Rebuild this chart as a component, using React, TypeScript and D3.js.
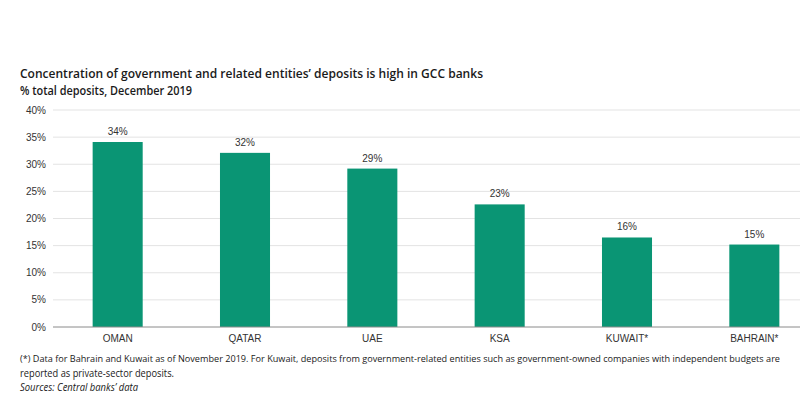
import React from "react";
import * as d3 from "d3";

const categories = ["OMAN", "QATAR", "UAE", "KSA", "KUWAIT*", "BAHRAIN*"];
const values = [34.1, 32.1, 29.2, 22.6, 16.5, 15.2];
const valueLabels = ["34%", "32%", "29%", "23%", "16%", "15%"];
const yTicks = [0, 5, 10, 15, 20, 25, 30, 35, 40];

const title = "Concentration of government and related entities’ deposits is high in GCC banks";
const subtitle = "% total deposits, December 2019";
const note1 =
  "(*) Data for Bahrain and Kuwait as of November 2019. For Kuwait, deposits from government-related entities such as government-owned companies with independent budgets are";
const note2 = "reported as private-sector deposits.";
const source = "Sources: Central banks’ data";

export default function App() {
  const W = 800;
  const H = 400;
  const x0 = 54;
  const x1 = 818;
  const yTop = 110;
  const yBot = 327;

  const x = d3.scaleBand<string>().domain(categories).range([x0, x1]).paddingInner(0.607).paddingOuter(0.3035);
  const y = d3.scaleLinear().domain([0, 40]).range([yBot, yTop]);
  const axisFont = "'Liberation Sans', Arial, sans-serif";
  const textFont = "'Open Sans', 'Noto Sans', sans-serif";

  return (
    <svg
      width={W}
      height={H}
      style={{ position: "absolute", left: 0, top: 0, background: "#fff" }}
    >
      <rect x={0} y={0} width={W} height={H} fill="#fff" />
      <text x={20} y={78} fontFamily={textFont} fontSize={12.8} fontWeight={600} fill="#1a1a1a" textLength={463} lengthAdjust="spacingAndGlyphs">
        {title}
      </text>
      <text x={20} y={95} fontFamily={textFont} fontSize={12.8} fontWeight={600} fill="#1a1a1a" textLength={172} lengthAdjust="spacingAndGlyphs">
        {subtitle}
      </text>

      {yTicks.map((t) => (
        <g key={t}>
          {t > 0 && (
            <line x1={53} x2={W} y1={y(t)} y2={y(t)} stroke="#e3e3e3" strokeWidth={1} />
          )}
          <text
            x={46}
            y={y(t)}
            dy="0.35em"
            textAnchor="end"
            fontFamily={axisFont}
            fontSize={10}
            fill="#333"
          >
            {t}%
          </text>
        </g>
      ))}

      {categories.map((c, i) => (
        <g key={c}>
          <rect
            x={x(c)}
            y={y(values[i])}
            width={x.bandwidth()}
            height={yBot - y(values[i])}
            fill="#0a9574"
          />
          <text
            x={(x(c) as number) + x.bandwidth() / 2}
            y={y(values[i]) - 7}
            textAnchor="middle"
            fontFamily={axisFont}
            fontSize={10}
            fill="#333"
          >
            {valueLabels[i]}
          </text>
          <text
            x={(x(c) as number) + x.bandwidth() / 2}
            y={yBot + 15}
            textAnchor="middle"
            fontFamily={axisFont}
            fontSize={10}
            fill="#333"
          >
            {c}
          </text>
        </g>
      ))}

      <line x1={53} x2={W} y1={yBot} y2={yBot} stroke="#8a8a8a" strokeWidth={1} />

      <text x={20} y={362} fontFamily={textFont} fontSize={9.2} fill="#1a1a1a" textLength={760} lengthAdjust="spacingAndGlyphs">
        {note1}
      </text>
      <text x={20} y={377} fontFamily={textFont} fontSize={10.4} fill="#1a1a1a" textLength={154} lengthAdjust="spacingAndGlyphs">
        {note2}
      </text>
      <text x={20} y={391} fontFamily={textFont} fontSize={10.4} fontStyle="italic" fill="#1a1a1a" textLength={118} lengthAdjust="spacingAndGlyphs">
        {source}
      </text>
    </svg>
  );
}
